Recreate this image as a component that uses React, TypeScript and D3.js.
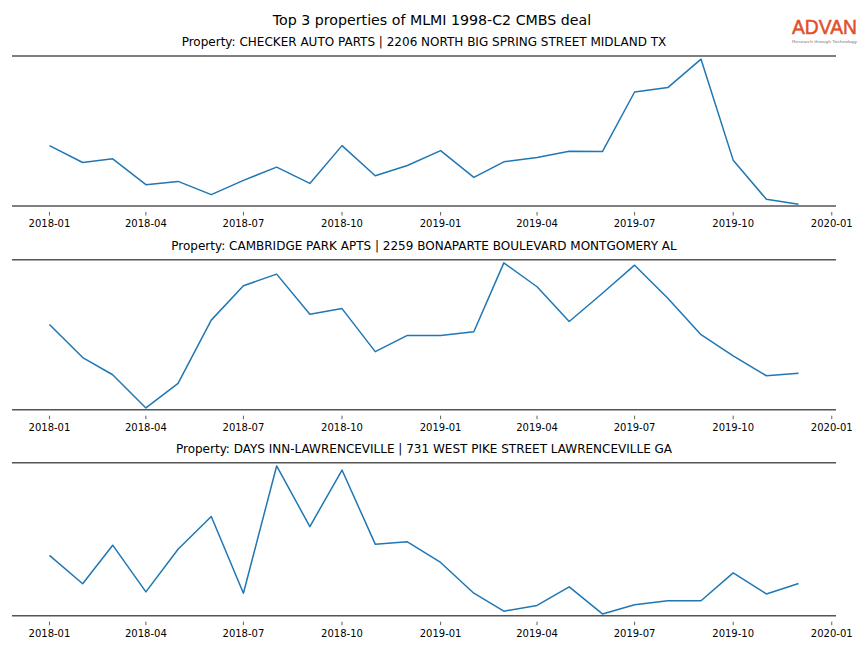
import React from "react";
import * as d3 from "d3";

const months: string[] = [
  "2018-01","2018-02","2018-03","2018-04","2018-05","2018-06","2018-07","2018-08","2018-09","2018-10","2018-11","2018-12",
  "2019-01","2019-02","2019-03","2019-04","2019-05","2019-06","2019-07","2019-08","2019-09","2019-10","2019-11","2019-12",
];

const tickLabels: string[] = ["2018-01","2018-04","2018-07","2018-10","2019-01","2019-04","2019-07","2019-10","2020-01"];

const checkerAutoParts: number[] = [603, 433, 470, 210, 243, 110, 253, 387, 223, 603, 300, 403, 553, 283, 440, 483, 547, 543, 1143, 1187, 1473, 457, 63, 13];
const cambridgeParkApts: number[] = [850, 517, 344, 10, 257, 894, 1240, 1357, 954, 1010, 577, 740, 740, 777, 1470, 1230, 880, 1164, 1447, 1114, 747, 534, 334, 360];
const daysInnLawrenceville: number[] = [607, 327, 707, 247, 667, 990, 234, 1487, 890, 1447, 717, 740, 537, 234, 57, 114, 297, 30, 120, 160, 160, 434, 227, 330];

const propertyTitles: string[] = [
  "Property: CHECKER AUTO PARTS | 2206 NORTH BIG SPRING STREET MIDLAND TX",
  "Property: CAMBRIDGE PARK APTS | 2259 BONAPARTE BOULEVARD MONTGOMERY AL",
  "Property: DAYS INN-LAWRENCEVILLE | 731 WEST PIKE STREET LAWRENCEVILLE GA",
];

const chartTitle = "Top 3 properties of MLMI 1998-C2 CMBS deal";

const seriesList = [checkerAutoParts, cambridgeParkApts, daysInnLawrenceville];

const W = 864;
const H = 648;
const axLeft = 12;
const axRight = 836;
const panels = [
  { top: 56, bottom: 206 },
  { top: 259.7, bottom: 409.7 },
  { top: 462.7, bottom: 615.7 },
];

const parse = d3.timeParse("%Y-%m");
const dates = months.map((m) => parse(m) as Date);
const t0 = dates[0].getTime();
const t1 = dates[dates.length - 1].getTime();
const span = t1 - t0;
const x = d3
  .scaleTime()
  .domain([new Date(t0 - 0.05 * span), new Date(t1 + 0.05 * span)])
  .range([axLeft, axRight]);

const font = "DejaVu Sans, sans-serif";

export default function App() {
  return (
    <svg width={W} height={H} style={{ display: "block", position: "absolute", left: 0, top: 0 }} fontFamily={font}>
      <rect width={W} height={H} fill="#fff" />
      <text x={432} y={24.5} textAnchor="middle" fontSize={14.2} fill="#000">{chartTitle}</text>
      <g>
        <text x={792} y={34} fontFamily="Liberation Sans, Arial, sans-serif" fontSize={19.5} fill="#e0502a" stroke="#e0502a" strokeWidth={0.5} textLength={65} lengthAdjust="spacingAndGlyphs">ADVAN</text>
        <text x={792} y={42.5} fontFamily="Liberation Sans, Arial, sans-serif" fontSize={4.3} fill="#777" textLength={65} lengthAdjust="spacingAndGlyphs">Research through Technology</text>
      </g>
      {seriesList.map((vals, i) => {
        const p = panels[i];
        const [mn, mx] = d3.extent(vals) as [number, number];
        const r = mx - mn;
        const y = d3.scaleLinear().domain([mn - 0.012 * r, mx + 0.022 * r]).range([p.bottom, p.top]);
        const line = d3
          .line<number>()
          .x((_, j) => x(dates[j]))
          .y((v) => y(v));
        return (
          <g key={i}>
            <text x={(axLeft + axRight) / 2} y={p.top - 10} textAnchor="middle" fontSize={12} fill="#000">{propertyTitles[i]}</text>
            <path d={line(vals) || ""} fill="none" stroke="#1f77b4" strokeWidth={1.5} strokeLinejoin="round" />
            <line x1={axLeft} x2={axRight} y1={p.top} y2={p.top} stroke="#555" strokeWidth={1.6} />
            <line x1={axLeft} x2={axRight} y1={p.bottom} y2={p.bottom} stroke="#555" strokeWidth={1.6} />
            {tickLabels.map((t) => {
              const tx = x(parse(t) as Date);
              return (
                <g key={t}>
                  <line x1={tx} x2={tx} y1={p.bottom + 6} y2={p.bottom + 9.5} stroke="#333" strokeWidth={0.8} />
                  <text x={tx} y={p.bottom + 21} textAnchor="middle" fontSize={10} fill="#000">{t}</text>
                </g>
              );
            })}
          </g>
        );
      })}
    </svg>
  );
}
